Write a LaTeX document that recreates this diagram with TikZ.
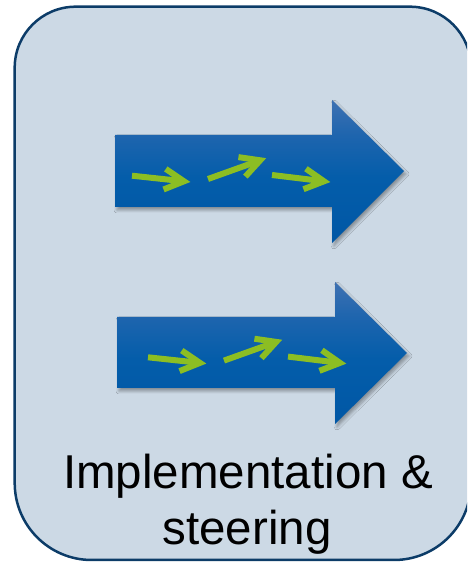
\documentclass[tikz,border=0pt]{standalone}
\usepackage{fontspec}
\setmainfont{Liberation Sans}
\usetikzlibrary{calc,shadows.blur}
\definecolor{boxfill}{RGB}{204,217,229}
\definecolor{boxline}{RGB}{12,60,104}
\definecolor{bluetop}{RGB}{62,113,178}
\definecolor{blueshaft}{RGB}{30,101,174}
\definecolor{bluemid}{RGB}{4,93,170}
\definecolor{bluebot}{RGB}{0,87,165}
\definecolor{leaf}{RGB}{140,190,35}
\pgfdeclareverticalshading{arrowshade}{100bp}{color(0bp)=(bluebot); color(25bp)=(bluebot); color(48bp)=(bluemid); color(62.8bp)=(blueshaft); color(75bp)=(bluetop); color(100bp)=(bluetop)}
\tikzset{
  bigarrow/.style={shading=arrowshade, draw=none,
    blur shadow={shadow xshift=2pt, shadow yshift=-3pt, shadow blur steps=6, shadow opacity=35, shadow blur radius=3pt}},
  gline/.style={draw=leaf, line width=6pt, line cap=butt},
  glegs/.style={draw=leaf, line width=6pt, line cap=butt, line join=miter},
  label/.style={font=\fontsize{47.5}{56}\selectfont, text=black, anchor=base, inner sep=0pt}
}
\begin{document}
\begin{tikzpicture}[x=1pt,y=1pt]
\useasboundingbox (0,0) rectangle (467,563);
\clip (0,0) rectangle (467,563);
% outer rounded panel
\path[fill=boxfill, draw=boxline, line width=2.5pt]
  (14.7,80) -- (14.7,495.3) arc[start angle=180, end angle=90, radius=61]
  -- (410,556.3) arc[start angle=90, end angle=0, radius=61]
  -- (471,80) arc[start angle=0, end angle=-90, radius=77]
  -- (91.7,3) arc[start angle=270, end angle=180, radius=77] -- cycle;
% upper big arrow
\path[bigarrow] (115,428) -- (332,428) -- (332,463) -- (404,392) -- (332,320) -- (332,356) -- (115,356) -- cycle;
% lower big arrow
\path[bigarrow] (117,246) -- (335,246) -- (335,281) -- (407,210) -- (335,139) -- (335,175) -- (117,175) -- cycle;
% green small arrows, upper
\coordinate (a1s) at (132,387.3); \coordinate (a1e) at (184,381.7);
\coordinate (a2s) at (208,384);   \coordinate (a2e) at (260.2,402.7);
\coordinate (a3s) at (272,388);   \coordinate (a3e) at (324,381.7);
% green small arrows, lower
\coordinate (b1s) at (148,205.7); \coordinate (b1e) at (200,200.1);
\coordinate (b2s) at (224,202.4); \coordinate (b2e) at (276.2,221.1);
\coordinate (b3s) at (288,206.4); \coordinate (b3e) at (340,200.1);
\foreach \p in {a1,a2,a3,b1,b2,b3}{
  \draw[gline] (\p s) -- (\p e);
  \draw[glegs] ($(\p e)!22pt!28:(\p s)$) -- (\p e) -- ($(\p e)!22pt!-28:(\p s)$);
}
% label
\node[label] (t1) at (248,74) {Implementation \&};
\node[label] (t2) at (247,18) {steering};
\end{tikzpicture}
\end{document}
